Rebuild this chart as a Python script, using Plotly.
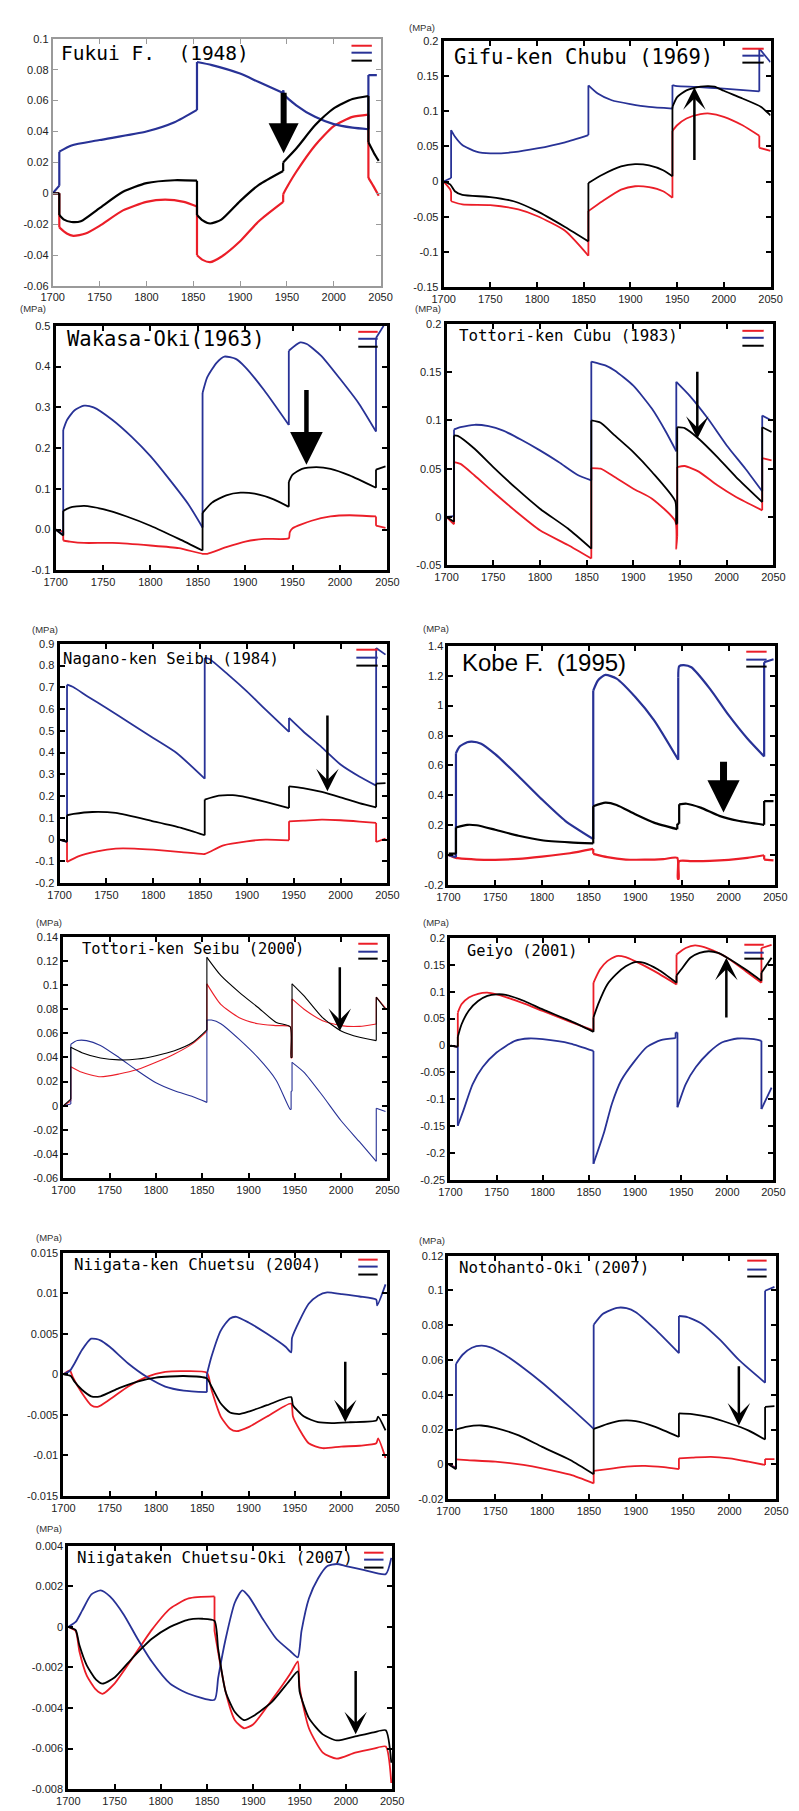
import plotly.graph_objects as go

W, H = 799, 1811
RED = "rgb(235,30,40)"
BLUE = "rgb(40,50,150)"
BLACK = "rgb(0,0,0)"

YEAR_TICKS = [1700, 1750, 1800, 1850, 1900, 1950, 2000, 2050]

# ---------------- Fukui F. (1948)
FUKUI_RED_X = [1700,1707,1707,1715,1722,1735,1750,1775,1800,1820,1840,1854,1854,1860,1868,1880,1900,1920,1946,1946,1950,1960,1980,2000,2020,2037,2037,2042,2048]
FUKUI_RED_Y = [0,0,-0.022,-0.026,-0.0275,-0.026,-0.021,-0.011,-0.0055,-0.004,-0.0055,-0.0085,-0.040,-0.043,-0.0445,-0.041,-0.031,-0.018,-0.0055,-0.0005,0.004,0.014,0.031,0.0435,0.0495,0.051,0.010,0.005,-0.0015]
FUKUI_BLUE_X = [1700,1707,1707,1720,1750,1800,1830,1854,1854,1870,1900,1920,1946,1946,1947,1960,1980,2000,2020,2037,2037,2046]
FUKUI_BLUE_Y = [0,0.005,0.027,0.031,0.0345,0.040,0.046,0.054,0.085,0.083,0.0775,0.072,0.065,0.0667,0.064,0.057,0.0495,0.0448,0.0425,0.0415,0.0765,0.0765]
FUKUI_BLACK_X = [1700,1707,1707,1712,1720,1730,1750,1775,1800,1830,1854,1854,1860,1868,1880,1900,1920,1946,1946,1960,1980,2000,2020,2037,2037,2043,2048]
FUKUI_BLACK_Y = [0,0,-0.014,-0.017,-0.0185,-0.018,-0.0095,0.001,0.0066,0.0085,0.0082,-0.014,-0.0175,-0.0195,-0.017,-0.005,0.0055,0.0145,0.020,0.029,0.044,0.055,0.061,0.063,0.033,0.026,0.021]

# ---------------- Gifu-ken Chubu (1969)
GIFU_RED_X = [1700,1707,1708,1708,1720,1750,1780,1800,1830,1855,1855,1870,1890,1905,1920,1935,1945,1945,1950,1960,1975,1985,2000,2020,2038,2038,2050]
GIFU_RED_Y = [0,-0.011,-0.015,-0.028,-0.0325,-0.0335,-0.0396,-0.049,-0.070,-0.1054,-0.042,-0.028,-0.0115,-0.0067,-0.008,-0.0138,-0.023,0.0717,0.080,0.0896,0.0957,0.0966,0.092,0.080,0.065,0.048,0.0436]
GIFU_BLUE_X = [1700,1708,1708,1712,1720,1735,1750,1775,1800,1830,1855,1855,1865,1880,1900,1920,1945,1945,1950,1970,2000,2038,2038,2050]
GIFU_BLUE_Y = [0,0.005,0.073,0.064,0.052,0.0426,0.040,0.0417,0.047,0.0558,0.066,0.1366,0.125,0.1155,0.11,0.106,0.1037,0.137,0.1356,0.1345,0.132,0.128,0.189,0.1695]
GIFU_BLACK_X = [1700,1707,1712,1720,1750,1775,1800,1830,1855,1855,1870,1890,1905,1920,1935,1945,1945,1950,1960,1975,1990,2000,2020,2040,2050]
GIFU_BLACK_Y = [0,-0.004,-0.0138,-0.019,-0.022,-0.028,-0.042,-0.0645,-0.085,-0.002,0.0097,0.0215,0.0248,0.023,0.016,0.0074,0.106,0.12,0.1295,0.135,0.135,0.129,0.118,0.106,0.094]

# ---------------- Wakasa-Oki (1963)
WAKASA_RED_X = [1700,1708,1708,1715,1730,1760,1800,1830,1855,1860,1880,1900,1920,1946,1947,1950,1970,1990,2010,2038,2038,2048]
WAKASA_RED_Y = [0,-0.005,-0.027,-0.0296,-0.033,-0.033,-0.0393,-0.0458,-0.0596,-0.0596,-0.0434,-0.0296,-0.023,-0.0215,-0.007,0.003,0.0215,0.032,0.035,0.032,0.0093,0.0037]
WAKASA_BLUE_X = [1700,1708,1708,1712,1720,1730,1740,1760,1780,1800,1820,1840,1855,1855,1860,1870,1878,1890,1900,1920,1946,1946,1958,1965,1980,2000,2020,2038,2038,2046]
WAKASA_BLUE_Y = [0,-0.013,0.2445,0.269,0.293,0.304,0.30,0.269,0.228,0.180,0.123,0.062,0.005,0.335,0.374,0.41,0.4246,0.419,0.399,0.342,0.2567,0.439,0.4595,0.4554,0.427,0.370,0.309,0.2405,0.47,0.5]
WAKASA_BLACK_X = [1700,1708,1708,1715,1730,1750,1775,1800,1830,1855,1855,1865,1880,1895,1910,1930,1946,1946,1950,1960,1975,1990,2010,2038,2038,2048]
WAKASA_BLACK_Y = [0,-0.015,0.0458,0.054,0.058,0.050,0.032,0.0093,-0.023,-0.0515,0.041,0.066,0.084,0.0904,0.088,0.074,0.0556,0.117,0.135,0.149,0.153,0.149,0.133,0.1026,0.1472,0.155]

# ---------------- Tottori-ken Cubu (1983)
TCUBU_RED_X = [1700,1708,1708,1715,1730,1750,1775,1800,1830,1855,1855,1865,1880,1900,1920,1945,1946,1947,1947,1955,1970,1990,2010,2038,2038,2048]
TCUBU_RED_Y = [0,-0.0076,0.0569,0.055,0.043,0.0259,0.0052,-0.0138,-0.029,-0.043,0.0507,0.050,0.0414,0.0293,0.019,-0.0045,-0.033,-0.02,0.0517,0.0528,0.047,0.0328,0.0207,0.0069,0.061,0.0586]
TCUBU_BLUE_X = [1700,1708,1708,1715,1730,1745,1760,1780,1800,1820,1840,1855,1855,1870,1880,1900,1920,1935,1946,1946,1960,1980,2000,2020,2038,2038,2048]
TCUBU_BLUE_Y = [0,0.001,0.0907,0.093,0.0955,0.094,0.0897,0.080,0.069,0.057,0.0438,0.038,0.161,0.157,0.1517,0.136,0.112,0.088,0.068,0.140,0.126,0.1017,0.0741,0.050,0.0266,0.105,0.10]
TCUBU_BLACK_X = [1700,1708,1708,1712,1730,1750,1775,1800,1830,1855,1855,1865,1880,1900,1920,1945,1946,1947,1947,1955,1970,1990,2010,2038,2038,2048]
TCUBU_BLACK_Y = [0,-0.005,0.0845,0.084,0.0707,0.0517,0.0293,0.0086,-0.012,-0.0328,0.1,0.0976,0.0845,0.0672,0.0466,0.0162,-0.007,-0.007,0.093,0.092,0.081,0.062,0.0414,0.0155,0.093,0.088]

# ---------------- Nagano-ken Seibu (1984)
NAGANO_RED_X = [1700,1708,1708,1720,1740,1760,1780,1800,1830,1855,1860,1875,1900,1920,1945,1945,1960,1980,2000,2020,2038,2038,2048]
NAGANO_RED_Y = [0,-0.008,-0.103,-0.077,-0.054,-0.041,-0.041,-0.046,-0.057,-0.066,-0.057,-0.026,-0.0077,0,-0.003,0.084,0.087,0.092,0.089,0.083,0.0766,-0.011,0.0046]
NAGANO_BLUE_X = [1700,1708,1708,1715,1730,1750,1775,1800,1825,1855,1855,1860,1880,1900,1920,1945,1945,1960,1980,2000,2020,2038,2038,2048]
NAGANO_BLUE_Y = [0,-0.01,0.712,0.70,0.658,0.605,0.536,0.467,0.398,0.28,0.835,0.83,0.758,0.681,0.597,0.495,0.559,0.498,0.424,0.345,0.29,0.248,0.88,0.85]
NAGANO_BLACK_X = [1700,1708,1708,1715,1735,1760,1800,1830,1855,1855,1870,1885,1900,1920,1945,1945,1960,1980,2000,2020,2038,2038,2048]
NAGANO_BLACK_Y = [0,-0.01,0.112,0.118,0.127,0.1225,0.084,0.0536,0.02,0.184,0.202,0.204,0.1945,0.173,0.145,0.245,0.237,0.219,0.1945,0.168,0.1485,0.257,0.26]

# ---------------- Kobe F. (1995)
KOBE_RED_X = [1700,1708,1710,1730,1750,1775,1800,1830,1855,1855,1870,1890,1910,1930,1945,1945.5,1946.5,1947,1960,1980,2000,2020,2038,2038,2048]
KOBE_RED_Y = [0,-0.018,-0.02,-0.029,-0.031,-0.024,-0.009,0.013,0.042,0.009,-0.013,-0.029,-0.03,-0.026,-0.018,-0.157,-0.157,-0.04,-0.04,-0.038,-0.031,-0.018,0,-0.029,-0.035]
KOBE_BLUE_X = [1700,1708,1708,1712,1720,1725,1735,1750,1775,1800,1825,1855,1855,1860,1868,1880,1900,1920,1946,1946,1947,1952,1960,1980,2000,2020,2038,2038,2048]
KOBE_BLUE_Y = [0,-0.013,0.682,0.726,0.755,0.759,0.745,0.675,0.528,0.373,0.23,0.108,1.10,1.168,1.205,1.18,1.057,0.903,0.638,1.19,1.263,1.27,1.256,1.112,0.936,0.78,0.66,1.29,1.31]
KOBE_BLACK_X = [1700,1708,1708,1720,1730,1750,1775,1800,1830,1855,1855,1868,1880,1900,1920,1945,1945,1947,1947,1955,1970,1990,2010,2038,2038,2048]
KOBE_BLACK_Y = [0.01,0.01,0.185,0.203,0.2,0.17,0.13,0.10,0.086,0.079,0.327,0.351,0.336,0.274,0.218,0.174,0.21,0.21,0.34,0.344,0.318,0.263,0.23,0.203,0.362,0.362]

# ---------------- Tottori-ken Seibu (2000)
TSEIBU_RED_X = [1700,1708,1708,1720,1740,1760,1780,1800,1820,1840,1855,1855,1870,1890,1910,1930,1945,1946,1947,1947,1960,1980,2000,2020,2038,2038,2048]
TSEIBU_RED_Y = [0,0.004,0.0324,0.0277,0.024,0.0263,0.030,0.036,0.0429,0.0517,0.0617,0.101,0.084,0.073,0.068,0.0664,0.0655,0.0396,0.0396,0.0885,0.080,0.0705,0.0664,0.0658,0.0678,0.09,0.081]
TSEIBU_BLUE_X = [1700,1708,1708,1715,1725,1740,1760,1780,1800,1820,1840,1855,1855,1860,1870,1890,1910,1930,1945,1946,1946,1947,1947,1960,1980,2000,2020,2038,2038,2048]
TSEIBU_BLUE_Y = [0,0.0014,0.051,0.054,0.054,0.050,0.040,0.029,0.019,0.0124,0.0075,0.0028,0.071,0.071,0.068,0.055,0.040,0.021,-0.003,-0.003,0.012,0.012,0.036,0.0277,0.0083,-0.0124,-0.030,-0.046,-0.002,-0.0047]
TSEIBU_BLACK_X = [1700,1708,1708,1720,1740,1760,1780,1800,1820,1840,1855,1855,1870,1890,1910,1930,1945,1946,1947,1947,1960,1980,2000,2020,2038,2038,2048]
TSEIBU_BLACK_Y = [0,0.0055,0.0484,0.044,0.0396,0.038,0.0387,0.0415,0.0456,0.0526,0.0628,0.123,0.108,0.094,0.0816,0.069,0.0655,0.04,0.04,0.101,0.091,0.073,0.062,0.0567,0.054,0.09,0.080]

# ---------------- Geiyo (2001)
GEIYO_RED_X = [1700,1708,1708,1712,1720,1730,1740,1750,1760,1780,1800,1830,1855,1855,1862,1870,1880,1890,1900,1920,1945,1945,1955,1965,1975,1990,2000,2020,2037,2037,2048]
GEIYO_RED_Y = [0,-0.0025,0.061,0.0765,0.089,0.096,0.098,0.095,0.09,0.0777,0.064,0.044,0.028,0.1165,0.141,0.1566,0.166,0.164,0.1566,0.139,0.1134,0.169,0.181,0.186,0.1825,0.172,0.163,0.138,0.1165,0.181,0.187]
GEIYO_BLUE_X = [1700,1708,1708,1714,1724,1735,1750,1770,1785,1800,1830,1855,1855,1866,1875,1885,1900,1913,1928,1944,1944,1946,1946,1955,1966,1980,1994,2011,2029,2037,2037,2048]
GEIYO_BLUE_Y = [0,-0.0025,-0.149,-0.121,-0.072,-0.04,-0.013,0.0086,0.013,0.0117,0.0037,-0.01,-0.2195,-0.164,-0.108,-0.065,-0.028,-0.0025,0.0099,0.0136,0.024,0.024,-0.1147,-0.0715,-0.04,-0.013,0.0055,0.013,0.0117,0.0086,-0.118,-0.078]
GEIYO_BLACK_X = [1700,1708,1708,1712,1720,1730,1740,1750,1760,1780,1800,1830,1855,1855,1860,1870,1880,1890,1900,1910,1925,1945,1945,1950,1960,1970,1980,1990,2000,2020,2037,2037,2048]
GEIYO_BLACK_Y = [0,-0.0025,0.016,0.039,0.065,0.0826,0.092,0.095,0.094,0.0826,0.067,0.0456,0.0253,0.052,0.0765,0.1134,0.133,0.147,0.155,0.1535,0.141,0.1165,0.13,0.141,0.163,0.172,0.175,0.172,0.163,0.141,0.12,0.135,0.163]

# ---------------- Niigata-ken Chuetsu (2004)
NCHU_RED_X = [1700,1707,1710,1720,1730,1737,1750,1770,1790,1810,1830,1855,1860,1870,1880,1887,1900,1920,1946,1948,1955,1965,1980,2000,2020,2038,2040,2048]
NCHU_RED_Y = [0,0.0005,-0.0003,-0.0023,-0.0038,-0.004,-0.0031,-0.0015,-0.0003,0.0003,0.0004,0.0002,-0.0019,-0.0052,-0.0067,-0.007,-0.0065,-0.0052,-0.0036,-0.0052,-0.0068,-0.0085,-0.0091,-0.0089,-0.0088,-0.0085,-0.0079,-0.0103]
NCHU_BLUE_X = [1700,1707,1712,1720,1730,1740,1750,1770,1790,1810,1830,1855,1855,1860,1870,1880,1887,1900,1920,1940,1946,1947,1955,1965,1975,1985,2000,2020,2038,2039,2048]
NCHU_BLUE_Y = [0,0.00045,0.00135,0.003,0.0044,0.0042,0.0034,0.00135,-0.0003,-0.0015,-0.002,-0.0022,0,0.0022,0.0054,0.0069,0.0071,0.0064,0.005,0.0034,0.0027,0.0045,0.0066,0.0087,0.0097,0.0101,0.0099,0.0096,0.0092,0.0085,0.0111]
NCHU_BLACK_X = [1700,1708,1712,1720,1730,1740,1760,1780,1800,1830,1855,1860,1870,1880,1890,1900,1920,1946,1948,1960,1975,1990,2010,2038,2040,2048]
NCHU_BLACK_Y = [0,-0.0002,-0.0009,-0.0019,-0.0027,-0.0027,-0.0017,-0.0009,-0.0004,-0.0002,-0.0005,-0.0015,-0.0036,-0.0047,-0.0049,-0.0046,-0.0038,-0.0028,-0.0038,-0.0052,-0.0059,-0.006,-0.0059,-0.0057,-0.0052,-0.0069]

# ---------------- Notohanto-Oki (2007)
NOTO_RED_X = [1700,1708,1708,1720,1750,1780,1800,1830,1855,1855,1870,1890,1910,1930,1946,1946,1960,1980,2000,2020,2038,2038,2048]
NOTO_RED_Y = [0,-0.0019,0.0028,0.0024,0.0015,-0.0004,-0.0023,-0.006,-0.011,-0.0038,-0.0028,-0.0013,-0.0009,-0.0017,-0.0028,0.0034,0.0038,0.0043,0.0034,0.0015,-0.0004,0.003,0.003]
NOTO_BLUE_X = [1700,1708,1708,1715,1725,1735,1745,1760,1780,1800,1830,1855,1855,1865,1880,1890,1900,1920,1946,1946,1955,1970,1990,2010,2038,2038,2048]
NOTO_BLUE_Y = [0,-0.0023,0.0577,0.063,0.067,0.0682,0.0673,0.063,0.0554,0.0469,0.0327,0.0204,0.0803,0.0866,0.09,0.0898,0.0875,0.078,0.0639,0.0853,0.0847,0.081,0.0715,0.060,0.0469,0.0998,0.102]
NOTO_BLACK_X = [1700,1708,1708,1720,1735,1750,1775,1800,1830,1855,1855,1870,1885,1900,1920,1946,1946,1960,1980,2000,2020,2038,2038,2048]
NOTO_BLACK_Y = [0,-0.0028,0.020,0.0217,0.0223,0.021,0.0166,0.01,0.0025,-0.0057,0.0204,0.0233,0.0251,0.0248,0.0217,0.0157,0.0293,0.0289,0.027,0.0236,0.0195,0.0142,0.033,0.0335]

# ---------------- Niigataken Chuetsu-Oki (2007)
NOKI_RED_X = [1700,1708,1712,1720,1730,1737,1750,1770,1790,1810,1830,1858,1858,1870,1880,1890,1900,1920,1940,1948,1950,1960,1975,1990,2010,2030,2043,2049]
NOKI_RED_Y = [0,-0.0002,-0.0012,-0.0024,-0.0031,-0.0033,-0.0028,-0.0015,-0.00016,0.0009,0.0014,0.0015,-0.0002,-0.0032,-0.0046,-0.005,-0.0048,-0.0036,-0.0023,-0.0017,-0.003,-0.005,-0.0062,-0.0065,-0.0062,-0.006,-0.0059,-0.0077]
NOKI_BLUE_X = [1700,1708,1715,1725,1735,1745,1760,1775,1790,1810,1830,1858,1862,1870,1880,1888,1895,1910,1925,1940,1948,1952,1960,1970,1980,1990,2000,2020,2043,2049]
NOKI_BLUE_Y = [0,0.00024,0.0008,0.0016,0.0018,0.0015,0.0006,-0.0006,-0.0017,-0.0028,-0.0033,-0.0036,-0.0025,-0.0006,0.0012,0.0018,0.0015,0.0004,-0.0006,-0.0012,-0.0015,-0.0002,0.0014,0.0024,0.003,0.0031,0.003,0.0028,0.0026,0.0034]
NOKI_BLACK_X = [1700,1708,1712,1720,1730,1737,1750,1770,1790,1810,1830,1845,1858,1862,1870,1880,1890,1900,1920,1940,1948,1950,1960,1975,1990,2010,2030,2043,2049]
NOKI_BLACK_Y = [0,-0.00016,-0.0009,-0.0019,-0.0026,-0.0028,-0.0025,-0.0015,-0.0006,0,0.00036,0.0004,0.0003,-0.0011,-0.0032,-0.0042,-0.0046,-0.0044,-0.0037,-0.0026,-0.0022,-0.0032,-0.0045,-0.0053,-0.0056,-0.0054,-0.0052,-0.0051,-0.0067]

# ---------------- y-axis ticks
FUKUI_TICKS = [-0.06,-0.04,-0.02,0,0.02,0.04,0.06,0.08,0.1]
FUKUI_LABELS = ["-0.06","-0.04","-0.02","0","0.02","0.04","0.06","0.08","0.1"]
GIFU_TICKS = [-0.15,-0.1,-0.05,0,0.05,0.1,0.15,0.2]
GIFU_LABELS = ["-0.15","-0.1","-0.05","0","0.05","0.1","0.15","0.2"]
WAKASA_TICKS = [-0.1,0,0.1,0.2,0.3,0.4,0.5]
WAKASA_LABELS = ["-0.1","0.0","0.1","0.2","0.3","0.4","0.5"]
TCUBU_TICKS = [-0.05,0,0.05,0.1,0.15,0.2]
TCUBU_LABELS = ["-0.05","0","0.05","0.1","0.15","0.2"]
NAGANO_TICKS = [-0.2,-0.1,0,0.1,0.2,0.3,0.4,0.5,0.6,0.7,0.8,0.9]
NAGANO_LABELS = ["-0.2","-0.1","0","0.1","0.2","0.3","0.4","0.5","0.6","0.7","0.8","0.9"]
KOBE_TICKS = [-0.2,0,0.2,0.4,0.6,0.8,1.0,1.2,1.4]
KOBE_LABELS = ["-0.2","0","0.2","0.4","0.6","0.8","1","1.2","1.4"]
TSEIBU_TICKS = [-0.06,-0.04,-0.02,0,0.02,0.04,0.06,0.08,0.1,0.12,0.14]
TSEIBU_LABELS = ["-0.06","-0.04","-0.02","0","0.02","0.04","0.06","0.08","0.1","0.12","0.14"]
GEIYO_TICKS = [-0.25,-0.2,-0.15,-0.1,-0.05,0,0.05,0.1,0.15,0.2]
GEIYO_LABELS = ["-0.25","-0.2","-0.15","-0.1","-0.05","0","0.05","0.1","0.15","0.2"]
NCHU_TICKS = [-0.015,-0.01,-0.005,0,0.005,0.01,0.015]
NCHU_LABELS = ["-0.015","-0.01","-0.005","0","0.005","0.01","0.015"]
NOTO_TICKS = [-0.02,0,0.02,0.04,0.06,0.08,0.1,0.12]
NOTO_LABELS = ["-0.02","0","0.02","0.04","0.06","0.08","0.1","0.12"]
NOKI_TICKS = [-0.008,-0.006,-0.004,-0.002,0,0.002,0.004]
NOKI_LABELS = ["-0.008","-0.006","-0.004","-0.002","0","0.002","0.004"]

# arrows: (year, tail value, tip value)
FUKUI_ARROW = [1946.5, 0.066, 0.026]
GIFU_ARROW = [1968.5, 0.0285, 0.134]
WAKASA_ARROW = [1964.6, 0.346, 0.159]
TCUBU_ARROW = [1968.5, 0.152, 0.081]
NAGANO_ARROW = [1986, 0.577, 0.222]
KOBE_ARROW = [1994.5, 0.634, 0.285]
TSEIBU_ARROW = [1998.6, 0.116, 0.062]
GEIYO_ARROW = [1999, 0.049, 0.163]
NCHU_ARROW = [2004.5, 0.00175, -0.0059]
NOTO_ARROW = [2010, 0.0573, 0.0223]
NOKI_ARROW = [2010.5, -0.0021, -0.0053]

NB = "\u00a0"
MONO = "DejaVu Sans Mono"
SANS = "Liberation Sans, Arial, sans-serif"

# panel layout (pixels: left, right, top, bottom)
panels = [
    dict(title="Fukui" + NB + "F." + NB + NB + "(1948)", rect=(42, 380, 33, 282), yr=(-0.06, 0.1), ticks=(FUKUI_TICKS, FUKUI_LABELS),
         data=(FUKUI_RED_X, FUKUI_RED_Y, FUKUI_BLUE_X, FUKUI_BLUE_Y, FUKUI_BLACK_X, FUKUI_BLACK_Y),
         arrow=FUKUI_ARROW, aw=6, asz=1.0, ahead=2, tpos=(50, 48), tfont=(MONO, 19.5),
         leg=(350, 371, 40, 47, 55), mpa=None, frame=("#9a9a9a", 2), lw=2.2),
    dict(title="Gifu-ken Chubu (1969)", rect=(445, 782, 35, 283), yr=(-0.15, 0.2), ticks=(GIFU_TICKS, GIFU_LABELS),
         data=(GIFU_RED_X, GIFU_RED_Y, GIFU_BLUE_X, GIFU_BLUE_Y, GIFU_BLACK_X, GIFU_BLACK_Y),
         arrow=GIFU_ARROW, aw=2.5, asz=1.5, ahead=3, tpos=(455, 51), tfont=(MONO, 20.5),
         leg=(753, 775, 43, 50, 57), mpa=(423, 22), frame=("black", 3), lw=1.8),
    dict(title="Wakasa-Oki(1963)", rect=(45, 387, 322, 568), yr=(-0.1, 0.5), ticks=(WAKASA_TICKS, WAKASA_LABELS),
         data=(WAKASA_RED_X, WAKASA_RED_Y, WAKASA_BLUE_X, WAKASA_BLUE_Y, WAKASA_BLACK_X, WAKASA_BLACK_Y),
         arrow=WAKASA_ARROW, aw=4.5, asz=1.45, ahead=2, tpos=(56, 335), tfont=(MONO, 20.5),
         leg=(357, 377, 328, 335, 343), mpa=(22, 305), frame=("black", 3), lw=1.8),
    dict(title="Tottori-ken Cubu (1983)", rect=(448, 785, 320, 563), yr=(-0.05, 0.2), ticks=(TCUBU_TICKS, TCUBU_LABELS),
         data=(TCUBU_RED_X, TCUBU_RED_Y, TCUBU_BLUE_X, TCUBU_BLUE_Y, TCUBU_BLACK_X, TCUBU_BLACK_Y),
         arrow=TCUBU_ARROW, aw=2.5, asz=1.5, ahead=3, tpos=(460, 332), tfont=(MONO, 15.8),
         leg=(753, 775, 327, 334, 342), mpa=(429, 305), frame=("black", 3), lw=1.8),
    dict(title="Nagano-ken Seibu (1984)", rect=(49, 387, 642, 883), yr=(-0.2, 0.9), ticks=(NAGANO_TICKS, NAGANO_LABELS),
         data=(NAGANO_RED_X, NAGANO_RED_Y, NAGANO_BLUE_X, NAGANO_BLUE_Y, NAGANO_BLACK_X, NAGANO_BLACK_Y),
         arrow=NAGANO_ARROW, aw=2.5, asz=1.5, ahead=3, tpos=(52, 657), tfont=(MONO, 15.6),
         leg=(355, 377, 648, 656, 664), mpa=(34, 628), frame=("black", 3), lw=1.8),
    dict(title="Kobe" + NB + "F." + NB + NB + "(1995)", rect=(450, 787, 644, 885), yr=(-0.2, 1.4), ticks=(KOBE_TICKS, KOBE_LABELS),
         data=(KOBE_RED_X, KOBE_RED_Y, KOBE_BLUE_X, KOBE_BLUE_Y, KOBE_BLACK_X, KOBE_BLACK_Y),
         arrow=KOBE_ARROW, aw=7, asz=0.92, ahead=2, tpos=(463, 661), tfont=(SANS, 24),
         leg=(757, 778, 650, 658, 665), mpa=(437, 627), frame=("black", 3), lw=2.2),
    dict(title="Tottori-ken Seibu (2000)", rect=(53, 387, 937, 1180), yr=(-0.06, 0.14), ticks=(TSEIBU_TICKS, TSEIBU_LABELS),
         data=(TSEIBU_RED_X, TSEIBU_RED_Y, TSEIBU_BLUE_X, TSEIBU_BLUE_Y, TSEIBU_BLACK_X, TSEIBU_BLACK_Y),
         arrow=TSEIBU_ARROW, aw=2.5, asz=1.5, ahead=3, tpos=(71, 949), tfont=(MONO, 15.4),
         leg=(357, 377, 944, 952, 959), mpa=(38, 923), frame=("black", 3), lw=1.1),
    dict(title="Geiyo (2001)", rect=(452, 785, 938, 1182), yr=(-0.25, 0.2), ticks=(GEIYO_TICKS, GEIYO_LABELS),
         data=(GEIYO_RED_X, GEIYO_RED_Y, GEIYO_BLUE_X, GEIYO_BLUE_Y, GEIYO_BLACK_X, GEIYO_BLACK_Y),
         arrow=GEIYO_ARROW, aw=2.5, asz=1.5, ahead=3, tpos=(468, 951), tfont=(MONO, 15.3),
         leg=(755, 775, 945, 953, 959), mpa=(437, 923), frame=("black", 3), lw=1.8),
    dict(title="Niigata-ken Chuetsu (2004)", rect=(53, 387, 1255, 1500), yr=(-0.015, 0.015), ticks=(NCHU_TICKS, NCHU_LABELS),
         data=(NCHU_RED_X, NCHU_RED_Y, NCHU_BLUE_X, NCHU_BLUE_Y, NCHU_BLACK_X, NCHU_BLACK_Y),
         arrow=NCHU_ARROW, aw=2.5, asz=1.5, ahead=3, tpos=(63, 1267), tfont=(MONO, 15.8),
         leg=(357, 377, 1262, 1269, 1277), mpa=(38, 1240), frame=("black", 3), lw=1.8),
    dict(title="Notohanto-Oki (2007)", rect=(450, 788, 1258, 1503), yr=(-0.02, 0.12), ticks=(NOTO_TICKS, NOTO_LABELS),
         data=(NOTO_RED_X, NOTO_RED_Y, NOTO_BLUE_X, NOTO_BLUE_Y, NOTO_BLACK_X, NOTO_BLACK_Y),
         arrow=NOTO_ARROW, aw=2.5, asz=1.5, ahead=3, tpos=(460, 1270), tfont=(MONO, 15.8),
         leg=(758, 778, 1263, 1272, 1279), mpa=(433, 1243), frame=("black", 3), lw=1.8),
    dict(title="Niigataken Chuetsu-Oki (2007)", rect=(58, 392, 1550, 1795), yr=(-0.008, 0.004), ticks=(NOKI_TICKS, NOKI_LABELS),
         data=(NOKI_RED_X, NOKI_RED_Y, NOKI_BLUE_X, NOKI_BLUE_Y, NOKI_BLACK_X, NOKI_BLACK_Y),
         arrow=NOKI_ARROW, aw=2.5, asz=1.5, ahead=3, tpos=(66, 1562), tfont=(MONO, 15.8),
         leg=(363, 383, 1557, 1564, 1572), mpa=(38, 1533), frame=("black", 3), lw=1.8),
]


def px(x):
    return x / W


def py(y):
    return 1 - y / H


def split_jumps(xs, ys):
    """Break the series at vertical jumps so the smooth parts stay smooth and
    the jumps stay vertical (each jump becomes its own 2-point segment)."""
    ox, oy = [xs[0]], [ys[0]]
    for k in range(1, len(xs)):
        if xs[k] == xs[k - 1]:
            ox += [None, xs[k - 1], xs[k], None, xs[k]]
            oy += [None, ys[k - 1], ys[k], None, ys[k]]
        else:
            ox.append(xs[k])
            oy.append(ys[k])
    return ox, oy


fig = go.Figure()
annotations = []
shapes = []
layout = {}

for i, p in enumerate(panels, start=1):
    sfx = "" if i == 1 else str(i)
    xr, yr_ = "x" + sfx, "y" + sfx
    l, r, t, b = p["rect"]
    fcol, fw = p["frame"]
    rx, ry, bx, by, kx, ky = p["data"]
    for xs, ys, col in ((rx, ry, RED), (bx, by, BLUE), (kx, ky, BLACK)):
        sx, sy = split_jumps(xs, ys)
        fig.add_trace(go.Scatter(x=sx, y=sy, mode="lines", xaxis=xr, yaxis=yr_, connectgaps=False,
                                 line=dict(color=col, width=p["lw"], shape="spline", smoothing=0.6),
                                 hoverinfo="skip", showlegend=False))
    common = dict(showgrid=False, zeroline=False, showline=True, linecolor=fcol, linewidth=fw,
                  mirror="ticks", ticks="inside", ticklen=5, tickwidth=2 if fw > 2 else 1,
                  tickcolor=fcol)
    layout["xaxis" + sfx] = dict(common, domain=[px(l), px(r)], range=[1700, 2050], anchor=yr_,
                                 tickvals=YEAR_TICKS, ticktext=[str(v) for v in YEAR_TICKS],
                                 tickfont=dict(family=SANS, size=11, color="#222"))
    layout["yaxis" + sfx] = dict(common, domain=[py(b), py(t)], range=list(p["yr"]), anchor=xr,
                                 tickvals=p["ticks"][0], ticktext=p["ticks"][1],
                                 tickfont=dict(family=SANS, size=11, color="#222"))
    annotations.append(dict(text=p["title"], xref="paper", yref="paper", x=px(p["tpos"][0]), y=py(p["tpos"][1]),
                            xanchor="left", yanchor="middle", showarrow=False, borderpad=0,
                            font=dict(family=p["tfont"][0], size=p["tfont"][1], color="black")))
    if p["mpa"]:
        annotations.append(dict(text="(MPa)", xref="paper", yref="paper", x=px(p["mpa"][0]), y=py(p["mpa"][1]),
                                xanchor="center", yanchor="middle", showarrow=False,
                                font=dict(family=SANS, size=9.5, color="#333")))
    ax_, tail, tip = p["arrow"]
    annotations.append(dict(text="", x=ax_, y=tip, ax=ax_, ay=tail, xref=xr, yref=yr_, axref=xr, ayref=yr_,
                            showarrow=True, arrowhead=p["ahead"], arrowsize=p["asz"], arrowwidth=p["aw"],
                            arrowcolor="black", standoff=0))
    lx0, lx1, y1, y2, y3 = p["leg"]
    for yy, col in ((y1, RED), (y2, BLUE), (y3, BLACK)):
        shapes.append(dict(type="line", xref="paper", yref="paper", x0=px(lx0), x1=px(lx1), y0=py(yy), y1=py(yy),
                           line=dict(color=col, width=2)))

fig.update_layout(width=W, height=H, margin=dict(l=0, r=0, t=0, b=0),
                  paper_bgcolor="white", plot_bgcolor="white", showlegend=False,
                  annotations=annotations, shapes=shapes, **layout)
fig.write_html("out.html")
